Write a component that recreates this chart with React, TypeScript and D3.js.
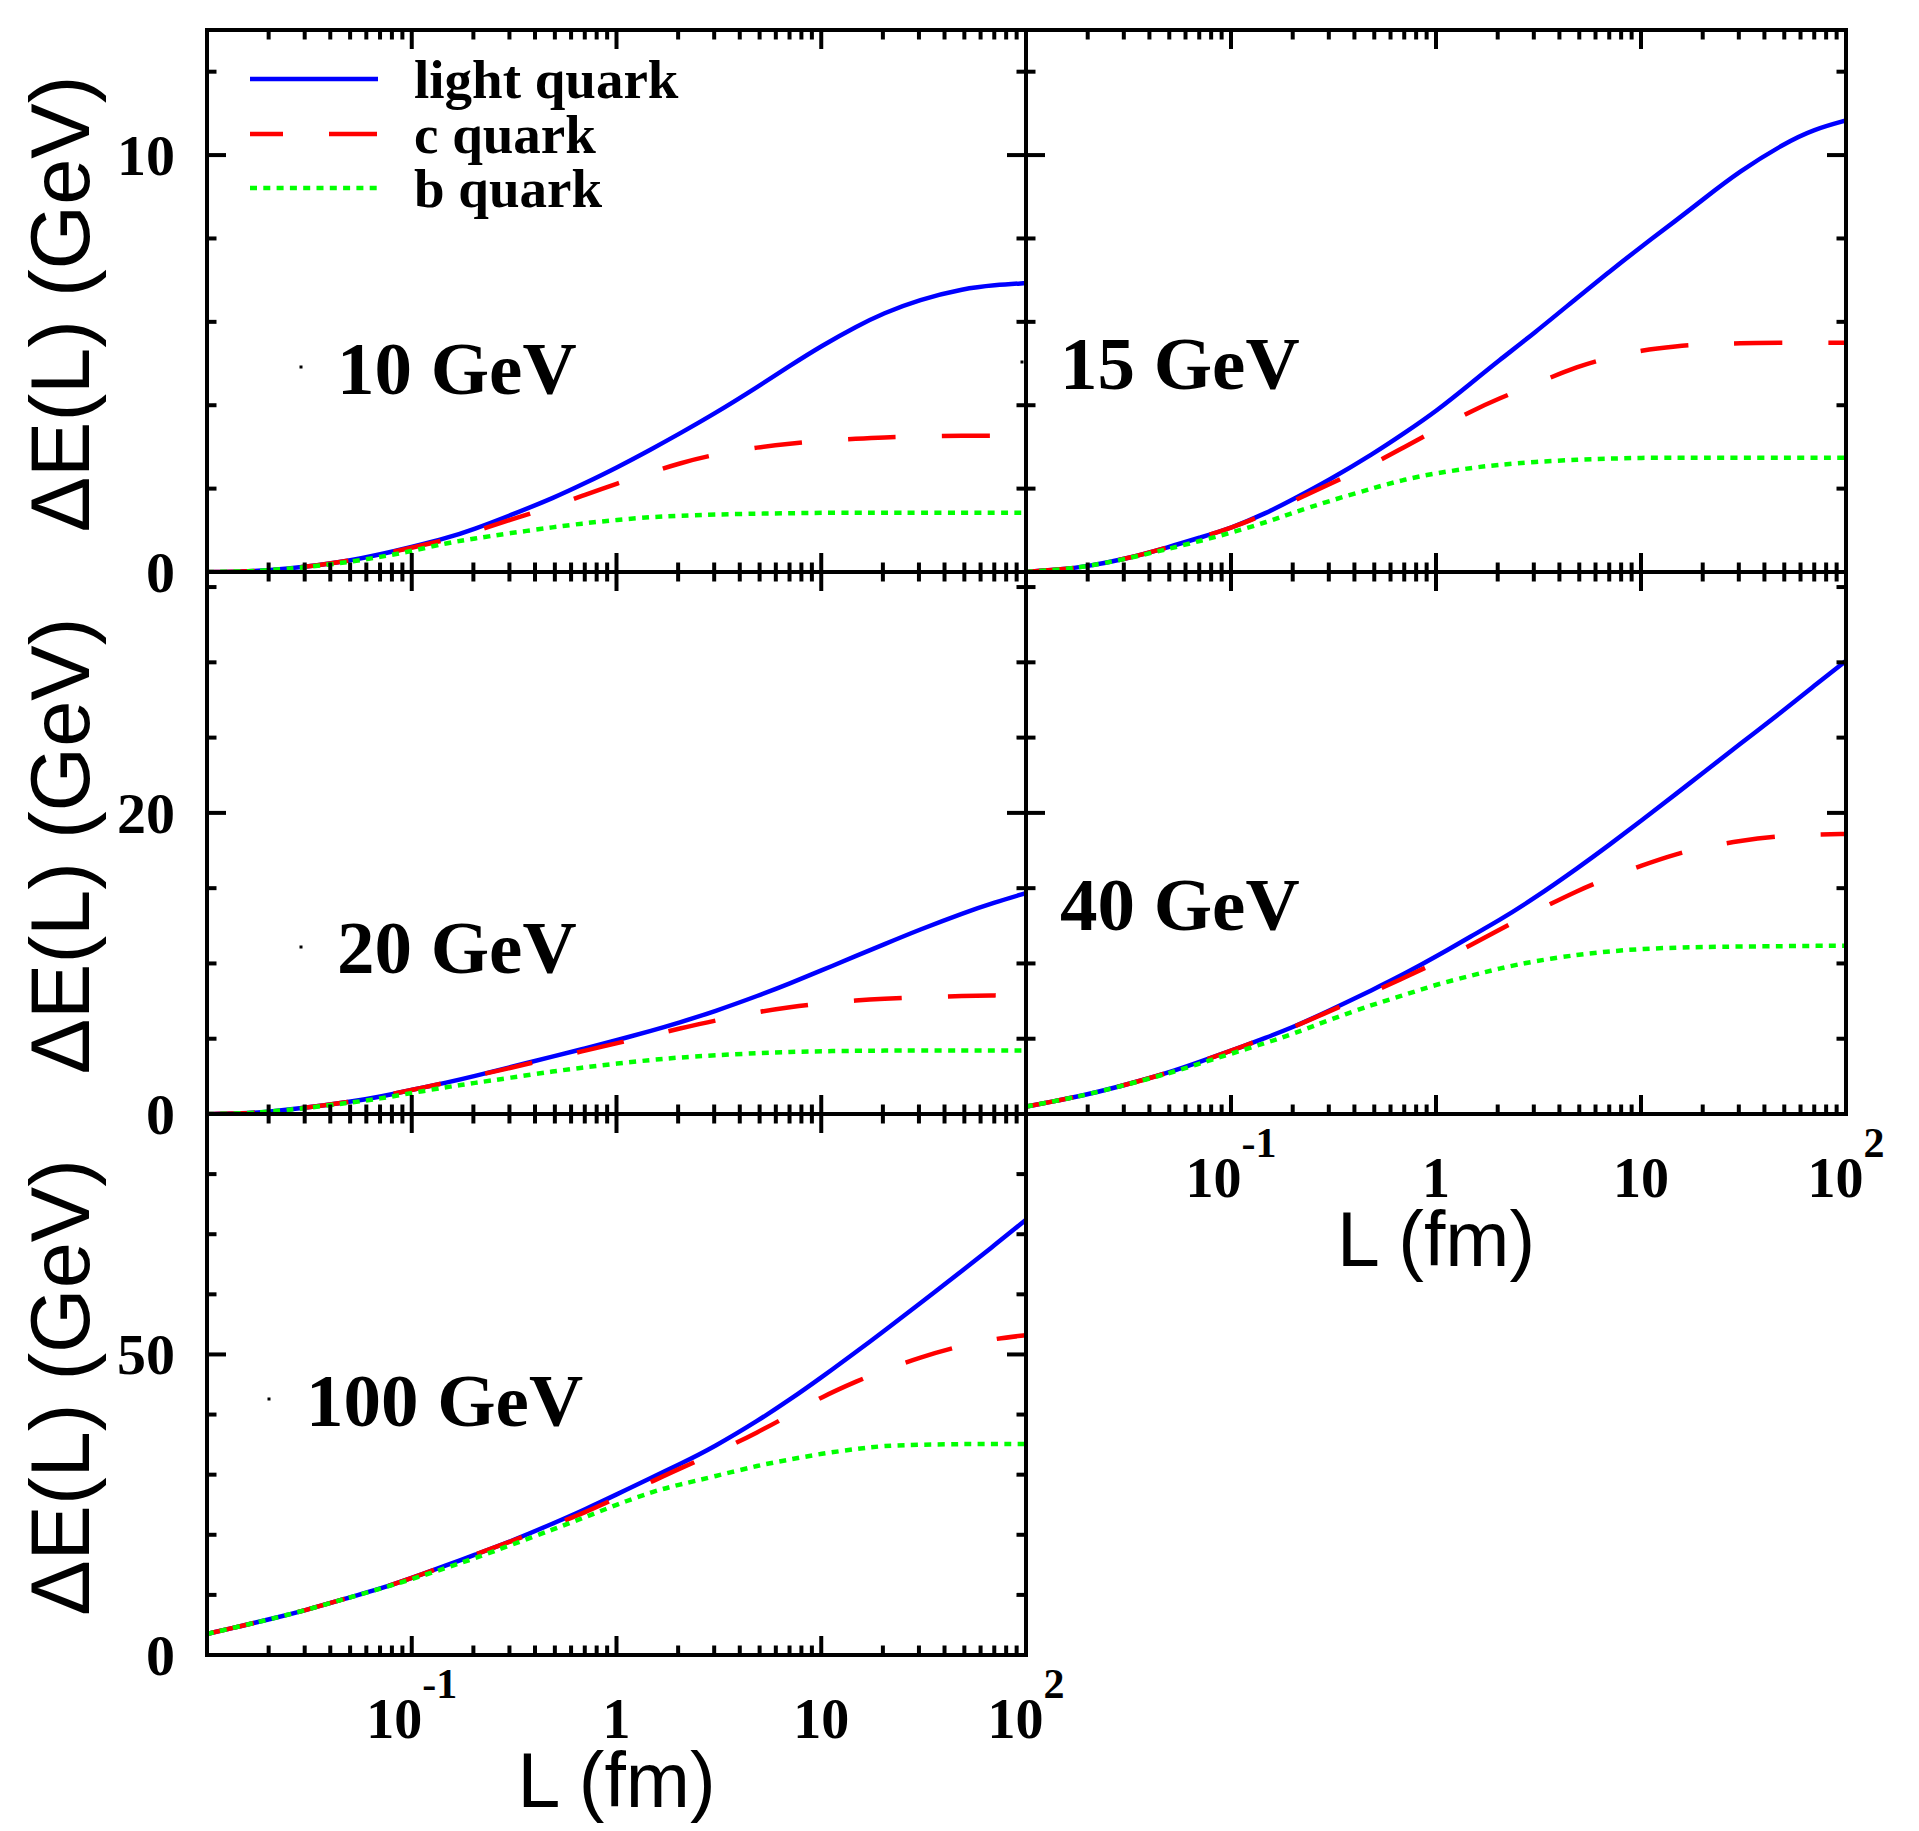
import React from 'react';
import * as d3 from 'd3';

// path length grid (fm)
const L_GRID = [0.01, 0.015, 0.02, 0.03, 0.05, 0.07, 0.1, 0.15, 0.2, 0.3, 0.5, 0.7, 1, 1.5, 2, 3, 5, 7, 10, 15, 20, 30, 50, 70, 100];

// energy loss (GeV)
const light10 = [0, 0.01, 0.04, 0.12, 0.27, 0.42, 0.6, 0.82, 1.02, 1.35, 1.79, 2.13, 2.5, 2.96, 3.3, 3.79, 4.47, 4.94, 5.42, 5.9, 6.2, 6.53, 6.8, 6.88, 6.93];
const charm10 = [0, 0.01, 0.04, 0.12, 0.27, 0.42, 0.58, 0.78, 0.96, 1.25, 1.58, 1.85, 2.12, 2.4, 2.6, 2.82, 3.0, 3.08, 3.15, 3.2, 3.23, 3.25, 3.27, 3.27, 3.27];
const bottom10 = [0, 0.01, 0.04, 0.11, 0.24, 0.36, 0.5, 0.7, 0.8, 0.93, 1.08, 1.17, 1.25, 1.32, 1.35, 1.38, 1.4, 1.41, 1.42, 1.42, 1.42, 1.42, 1.42, 1.42, 1.42];

const light15 = [0, 0.06, 0.14, 0.3, 0.6, 0.82, 1.05, 1.42, 1.74, 2.2, 2.85, 3.33, 3.85, 4.55, 5.05, 5.72, 6.62, 7.2, 7.8, 8.45, 8.93, 9.6, 10.28, 10.62, 10.83];
const charm15 = [0, 0.06, 0.14, 0.3, 0.6, 0.82, 1.05, 1.4, 1.7, 2.1, 2.6, 3.0, 3.4, 3.87, 4.15, 4.5, 4.95, 5.14, 5.32, 5.42, 5.46, 5.49, 5.5, 5.5, 5.5];
const bottom15 = [0, 0.06, 0.14, 0.3, 0.56, 0.74, 0.94, 1.2, 1.42, 1.7, 2.02, 2.22, 2.37, 2.5, 2.57, 2.64, 2.7, 2.72, 2.74, 2.74, 2.74, 2.74, 2.74, 2.74, 2.74];

const light20 = [0, 0.03, 0.15, 0.4, 0.8, 1.15, 1.6, 2.1, 2.5, 3.1, 3.85, 4.35, 4.9, 5.55, 6.05, 6.8, 7.89, 8.66, 9.53, 10.53, 11.24, 12.23, 13.38, 14.05, 14.67];
const charm20 = [0, 0.03, 0.15, 0.4, 0.8, 1.15, 1.6, 2.1, 2.5, 3.05, 3.75, 4.2, 4.7, 5.25, 5.65, 6.2, 6.8, 7.1, 7.35, 7.55, 7.65, 7.75, 7.85, 7.88, 7.9];
const bottom20 = [0, 0.03, 0.15, 0.38, 0.75, 1.02, 1.4, 1.8, 2.05, 2.4, 2.85, 3.1, 3.35, 3.6, 3.75, 3.9, 4.05, 4.12, 4.17, 4.2, 4.21, 4.22, 4.22, 4.22, 4.22];

const light40 = [0.49, 0.95, 1.3, 1.9, 2.75, 3.45, 4.2, 5.1, 5.75, 6.85, 8.3, 9.3, 10.45, 11.85, 12.8, 14.3, 16.41, 17.87, 19.47, 21.32, 22.64, 24.51, 26.84, 28.45, 30.1];
const charm40 = [0.49, 0.95, 1.3, 1.9, 2.75, 3.45, 4.2, 5.1, 5.75, 6.8, 8.15, 9.05, 10.05, 11.25, 12.2, 13.4, 14.9, 15.7, 16.5, 17.3, 17.7, 18.15, 18.5, 18.55, 18.6];
const bottom40 = [0.49, 0.95, 1.3, 1.9, 2.7, 3.35, 4.0, 4.75, 5.3, 6.25, 7.3, 7.9, 8.6, 9.2, 9.65, 10.15, 10.6, 10.8, 10.97, 11.05, 11.1, 11.12, 11.15, 11.17, 11.17];

const light100 = [3.5, 4.9, 5.9, 7.4, 9.6, 11.0, 12.8, 15.0, 16.6, 18.8, 22.0, 24.2, 26.7, 29.6, 31.6, 34.6, 39.15, 42.44, 46.16, 50.56, 53.75, 58.33, 64.21, 68.15, 72.4];
const charm100 = [3.5, 4.9, 5.9, 7.4, 9.6, 11.0, 12.8, 15.0, 16.6, 18.8, 21.7, 23.7, 26.1, 28.9, 30.9, 33.5, 37.2, 39.9, 42.9, 45.6, 47.3, 49.5, 51.6, 52.6, 53.2];
const bottom100 = [3.5, 4.9, 5.9, 7.4, 9.6, 11.0, 12.6, 14.6, 16.0, 18.2, 21.0, 22.9, 25.0, 27.2, 28.3, 29.7, 31.6, 32.5, 33.5, 34.3, 34.8, 35.0, 35.1, 35.1, 35.1];

const SERIES_NAMES = ['light quark', 'c quark', 'b quark'];
const PANEL_LABELS = ['10 GeV', '15 GeV', '20 GeV', '40 GeV', '100 GeV'];
const PANEL_SERIES = [
  [light10, charm10, bottom10],
  [light15, charm15, bottom15],
  [light20, charm20, bottom20],
  [light40, charm40, bottom40],
  [light100, charm100, bottom100],
];

// per-row y axes
const ROW_Y_MAX = [13, 36, 90];
const ROW_MAJOR_STEP = [10, 20, 50];
const ROW_MINOR_STEP = [2, 5, 10];

const X_TICK_VALUES = [0.1, 1, 10, 100];
const X_TICK_BASES = ['10', '1', '10', '10'];
const X_TICK_EXPONENTS = ['-1', '', '', '2'];
const X_DOMAIN = [0.01, 100];

const W = 1919;
const H = 1831;
const COL_X = [207, 1026, 1846];
const ROW_Y = [30, 572, 1114, 1655];
const COLORS = ['#0000ff', '#ff0000', '#00ff00'];
const DASHES = [undefined, '48 46', '7 6.3'];
const SERIF = '"Liberation Serif", "Times New Roman", Times, serif';
const SANS = '"Liberation Sans", Arial, Helvetica, sans-serif';

// panel grid positions: [row, col]
const PANEL_POS = [[0, 0], [0, 1], [1, 0], [1, 1], [2, 0]];
const LABEL_POS = [[337, 394], [1060, 389], [337, 973], [1060, 930], [306, 1426]];
const DOT_POS = [[301, 367], [1022, 362], [301, 947], null, [269, 1399]];

const MAJOR_LEN = 19;
const MINOR_LEN = 9.5;

const minorX: number[] = [];
[0.01, 0.1, 1, 10].forEach(d => { for (let k = 2; k <= 9; k++) minorX.push(d * k); });

function Panel({ idx }: { idx: number }) {
  const [r, c] = PANEL_POS[idx];
  const x0 = COL_X[c], x1 = COL_X[c + 1];
  const y0 = ROW_Y[r], y1 = ROW_Y[r + 1];
  const x = d3.scaleLog().domain(X_DOMAIN).range([x0, x1]);
  const y = d3.scaleLinear().domain([0, ROW_Y_MAX[r]]).range([y1, y0]);
  const line = d3.line<number>()
    .x((_, i) => x(L_GRID[i]))
    .y(v => y(v))
    .curve(d3.curveBasis);

  const majorY = d3.range(0, ROW_Y_MAX[r] + 1e-9, ROW_MAJOR_STEP[r]);
  const minorY = d3.range(0, ROW_Y_MAX[r] + 1e-9, ROW_MINOR_STEP[r]).filter(v => v % ROW_MAJOR_STEP[r] !== 0);
  const clipId = `clip-${idx}`;
  const tick = { stroke: '#000', strokeWidth: 4 };

  return (
    <g>
      <defs>
        <clipPath id={clipId}>
          <rect x={x0} y={y0} width={x1 - x0} height={y1 - y0} />
        </clipPath>
      </defs>
      <g clipPath={`url(#${clipId})`}>
        {PANEL_SERIES[idx].map((vals, s) => (
          <path key={s} d={line(vals) || ''} fill="none" stroke={COLORS[s]} strokeWidth={4.5}
            strokeDasharray={DASHES[s]} />
        ))}
      </g>
      {/* x ticks, bottom and top */}
      {[0.1, 1, 10].map(v => (
        <g key={`M${v}`}>
          <line x1={x(v)} x2={x(v)} y1={y1} y2={y1 - MAJOR_LEN} {...tick} />
          <line x1={x(v)} x2={x(v)} y1={y0} y2={y0 + MAJOR_LEN} {...tick} />
        </g>
      ))}
      {minorX.map(v => (
        <g key={`m${v}`}>
          <line x1={x(v)} x2={x(v)} y1={y1} y2={y1 - MINOR_LEN} {...tick} />
          <line x1={x(v)} x2={x(v)} y1={y0} y2={y0 + MINOR_LEN} {...tick} />
        </g>
      ))}
      {/* y ticks, left and right */}
      {majorY.map(v => (
        <g key={`Y${v}`}>
          <line x1={x0} x2={x0 + MAJOR_LEN} y1={y(v)} y2={y(v)} {...tick} />
          <line x1={x1} x2={x1 - MAJOR_LEN} y1={y(v)} y2={y(v)} {...tick} />
        </g>
      ))}
      {minorY.map(v => (
        <g key={`y${v}`}>
          <line x1={x0} x2={x0 + MINOR_LEN} y1={y(v)} y2={y(v)} {...tick} />
          <line x1={x1} x2={x1 - MINOR_LEN} y1={y(v)} y2={y(v)} {...tick} />
        </g>
      ))}
      <rect x={x0} y={y0} width={x1 - x0} height={y1 - y0} fill="none" stroke="#000" strokeWidth={4} />
      {/* y tick labels on the left column */}
      {c === 0 && majorY.map(v => (
        <text key={`yl${v}`} x={175} y={y(v) + 20} textAnchor="end" fontFamily={SERIF}
          fontWeight="bold" fontSize={58}>{v}</text>
      ))}
      {/* y title */}
      {c === 0 && (
        <text transform={`translate(89,${(y0 + y1) / 2 + 3}) rotate(-90)`} textAnchor="middle"
          fontFamily={SANS} fontSize={83}>ΔE(L) (GeV)</text>
      )}
      {/* panel label */}
      <text x={LABEL_POS[idx][0]} y={LABEL_POS[idx][1]} fontFamily={SERIF} fontWeight="bold"
        fontSize={75}>{PANEL_LABELS[idx]}</text>
      {DOT_POS[idx] && <rect x={DOT_POS[idx]![0] - 1.5} y={DOT_POS[idx]![1] - 1.5} width={3} height={3} fill="#000" />}
    </g>
  );
}

function XLabels({ col, bottom }: { col: number; bottom: number }) {
  const x = d3.scaleLog().domain(X_DOMAIN).range([COL_X[col], COL_X[col + 1]]);
  return (
    <g>
      {X_TICK_VALUES.map((v, i) => (
        <text key={v} x={x(v)} y={bottom + 83} textAnchor="middle" fontFamily={SERIF}
          fontWeight="bold" fontSize={56}>
          {X_TICK_BASES[i]}
          {X_TICK_EXPONENTS[i] && <tspan dy={-40} fontSize={42}>{X_TICK_EXPONENTS[i]}</tspan>}
        </text>
      ))}
      <text x={(COL_X[col] + COL_X[col + 1]) / 2} y={bottom + 152} textAnchor="middle"
        fontFamily={SANS} fontSize={77}>L (fm)</text>
    </g>
  );
}

function Legend() {
  const ys = [79, 134, 188];
  return (
    <g>
      {SERIES_NAMES.map((name, s) => (
        <g key={name}>
          <line x1={250} x2={378} y1={ys[s]} y2={ys[s]} stroke={COLORS[s]} strokeWidth={4.5}
            strokeDasharray={DASHES[s]} strokeDashoffset={s === 1 ? 15 : 0} />
          <text x={414} y={ys[s] + 19} fontFamily={SERIF} fontWeight="bold" fontSize={55}>{name}</text>
        </g>
      ))}
    </g>
  );
}

export default function App() {
  return (
    <svg width={W} height={H} viewBox={`0 0 ${W} ${H}`}
      style={{ position: 'absolute', left: 0, top: 0, background: '#fff' }}>
      <rect width={W} height={H} fill="#fff" />
      {PANEL_LABELS.map((_, i) => <Panel key={i} idx={i} />)}
      <Legend />
      <XLabels col={1} bottom={ROW_Y[2]} />
      <XLabels col={0} bottom={ROW_Y[3]} />
    </svg>
  );
}
